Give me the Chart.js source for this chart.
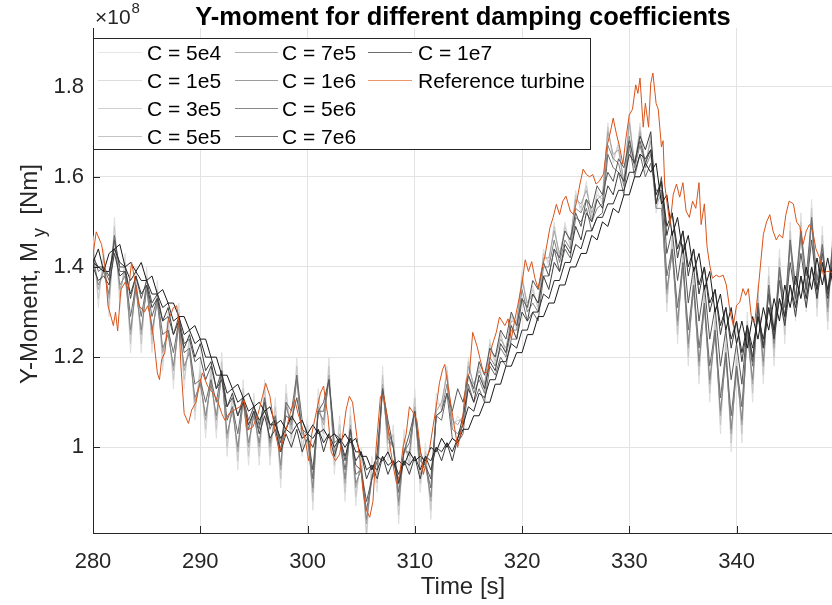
<!DOCTYPE html>
<html>
<head>
<meta charset="utf-8">
<script src="https://cdn.jsdelivr.net/npm/chart.js@4.4.1/dist/chart.umd.min.js"></script>
<style>
html,body{margin:0;padding:0;background:#fff;}
#wrap{width:832px;height:605px;position:relative;}
</style>
</head>
<body>
<div id="wrap"><canvas id="c"></canvas></div>
<script>
// ---------------- DATA ----------------
const xTickValues = [280,290,300,310,320,330,340];
const yTickValues = [1,1.2,1.4,1.6,1.8];
const yTickLabels = ['1','1.2','1.4','1.6','1.8'];

const times = [280,280.5,281,281.5,282,282.5,283,283.5,284,284.5,285,285.5,286,286.5,287,287.5,288,288.5,289,289.5,290,290.5,291,291.5,292,292.5,293,293.5,294,294.5,295,295.5,296,296.5,297,297.5,298,298.5,299,299.5,300,300.5,301,301.5,302,302.5,303,303.5,304,304.5,305,305.5,306,306.5,307,307.5,308,308.5,309,309.5,310,310.5,311,311.5,312,312.5,313,313.5,314,314.5,315,315.5,316,316.5,317,317.5,318,318.5,319,319.5,320,320.5,321,321.5,322,322.5,323,323.5,324,324.5,325,325.5,326,326.5,327,327.5,328,328.5,329,329.5,330,330.5,331,331.5,332,332.5,333,333.5,334,334.5,335,335.5,336,336.5,337,337.5,338,338.5,339,339.5,340,340.5,341,341.5,342,342.5,343,343.5,344,344.5,345,345.5,346,346.5,347,347.5,348,348.5,349];

const c5e4 = [
1.47,1.31,1.44,1.29,1.51,1.31,1.43,1.21,1.40,1.21,
1.40,1.21,1.37,1.17,1.30,1.13,1.32,1.13,1.26,1.06,
1.19,1.02,1.19,1.02,1.21,0.98,1.13,0.95,1.15,0.96,
1.12,0.96,1.15,0.96,1.11,0.91,1.14,1.00,1.20,0.98,
1.07,0.86,1.13,1.01,1.20,0.94,1.07,0.88,1.09,0.87,
1.00,0.79,0.98,0.90,1.18,0.97,1.05,0.83,1.04,0.94,
1.13,0.90,1.01,0.84,1.12,1.08,1.18,1.04,1.07,1.05,
1.20,1.12,1.19,1.12,1.24,1.18,1.26,1.20,1.30,1.26,
1.39,1.30,1.36,1.30,1.44,1.40,1.50,1.41,1.50,1.44,
1.57,1.52,1.59,1.50,1.57,1.54,1.72,1.63,1.68,1.57,
1.74,1.61,1.72,1.61,1.70,1.52,1.58,1.30,1.48,1.23,
1.45,1.18,1.40,1.14,1.36,1.10,1.30,1.03,1.25,0.99,
1.22,1.01,1.30,1.10,1.36,1.14,1.40,1.18,1.44,1.23,
1.50,1.28,1.52,1.30,1.55,1.29,1.49,1.26,1.50];

const c1e5 = [
1.45,1.33,1.42,1.31,1.49,1.33,1.41,1.23,1.38,1.23,
1.38,1.23,1.35,1.19,1.28,1.15,1.30,1.15,1.24,1.08,
1.17,1.04,1.17,1.04,1.19,1.00,1.11,0.97,1.13,0.98,
1.10,0.98,1.13,0.98,1.09,0.93,1.12,1.02,1.18,1.00,
1.05,0.88,1.11,1.03,1.18,0.96,1.05,0.90,1.07,0.89,
0.98,0.81,0.96,0.92,1.16,0.99,1.03,0.85,1.02,0.96,
1.11,0.92,0.99,0.86,1.10,1.09,1.17,1.05,1.06,1.06,
1.19,1.13,1.18,1.13,1.23,1.19,1.25,1.21,1.29,1.27,
1.38,1.31,1.35,1.31,1.43,1.41,1.49,1.42,1.49,1.45,
1.56,1.53,1.58,1.51,1.56,1.55,1.71,1.64,1.67,1.58,
1.73,1.62,1.71,1.62,1.69,1.53,1.57,1.32,1.46,1.25,
1.43,1.20,1.38,1.16,1.34,1.12,1.28,1.05,1.23,1.01,
1.20,1.03,1.28,1.12,1.34,1.16,1.38,1.20,1.42,1.25,
1.48,1.30,1.50,1.32,1.53,1.31,1.47,1.28,1.48];

const c3e5 = [
1.43,1.35,1.40,1.33,1.47,1.35,1.39,1.25,1.36,1.25,
1.36,1.25,1.33,1.21,1.26,1.17,1.28,1.17,1.22,1.10,
1.15,1.06,1.15,1.06,1.17,1.02,1.09,0.99,1.11,1.00,
1.08,1.00,1.11,1.00,1.07,0.95,1.10,1.04,1.16,1.02,
1.03,0.90,1.09,1.05,1.16,0.98,1.03,0.92,1.05,0.91,
0.96,0.83,0.94,0.94,1.14,1.01,1.01,0.87,1.00,0.98,
1.09,0.94,0.97,0.88,1.08,1.10,1.16,1.06,1.05,1.07,
1.18,1.14,1.17,1.14,1.22,1.20,1.24,1.22,1.28,1.28,
1.37,1.32,1.34,1.32,1.42,1.42,1.48,1.43,1.48,1.46,
1.55,1.54,1.57,1.52,1.55,1.56,1.70,1.65,1.66,1.59,
1.72,1.63,1.70,1.63,1.68,1.54,1.56,1.34,1.44,1.27,
1.41,1.22,1.36,1.18,1.32,1.14,1.26,1.07,1.21,1.03,
1.18,1.05,1.26,1.14,1.32,1.18,1.36,1.22,1.40,1.27,
1.46,1.32,1.48,1.34,1.51,1.33,1.45,1.30,1.46];

const c5e5 = [
1.42,1.36,1.39,1.34,1.46,1.36,1.38,1.26,1.35,1.26,
1.35,1.26,1.32,1.22,1.25,1.18,1.27,1.18,1.21,1.11,
1.14,1.07,1.14,1.07,1.16,1.03,1.08,1.00,1.10,1.01,
1.07,1.01,1.10,1.01,1.06,0.96,1.09,1.05,1.15,1.03,
1.02,0.91,1.08,1.06,1.15,0.99,1.02,0.93,1.04,0.92,
0.95,0.84,0.93,0.95,1.13,1.02,1.00,0.88,0.99,0.99,
1.08,0.95,0.96,0.89,1.07,1.08,1.14,1.04,1.03,1.05,
1.16,1.12,1.15,1.12,1.20,1.18,1.22,1.20,1.26,1.26,
1.35,1.30,1.32,1.30,1.40,1.40,1.46,1.41,1.46,1.44,
1.53,1.52,1.55,1.50,1.53,1.54,1.67,1.64,1.63,1.58,
1.69,1.62,1.67,1.62,1.65,1.53,1.53,1.35,1.43,1.28,
1.40,1.23,1.35,1.19,1.31,1.15,1.25,1.08,1.20,1.04,
1.17,1.06,1.25,1.15,1.31,1.19,1.35,1.23,1.39,1.28,
1.45,1.33,1.47,1.35,1.50,1.34,1.44,1.31,1.45];

const c7e5 = [
1.43,1.39,1.40,1.37,1.47,1.39,1.39,1.29,1.36,1.29,
1.36,1.29,1.33,1.25,1.26,1.21,1.28,1.21,1.22,1.14,
1.15,1.10,1.15,1.10,1.17,1.06,1.09,1.03,1.11,1.04,
1.08,1.04,1.11,1.04,1.07,0.99,1.10,1.08,1.16,1.06,
1.03,0.93,1.08,1.08,1.15,1.01,1.02,0.95,1.04,0.94,
0.95,0.86,0.93,0.97,1.13,1.04,1.00,0.90,0.99,1.01,
1.08,0.97,0.96,0.91,1.07,1.06,1.12,1.02,1.01,1.03,
1.14,1.10,1.13,1.10,1.18,1.16,1.20,1.18,1.24,1.24,
1.33,1.28,1.30,1.28,1.38,1.38,1.44,1.39,1.44,1.42,
1.51,1.50,1.53,1.48,1.51,1.52,1.65,1.62,1.61,1.56,
1.67,1.60,1.65,1.60,1.63,1.57,1.57,1.38,1.44,1.31,
1.41,1.26,1.36,1.22,1.32,1.18,1.26,1.11,1.21,1.07,
1.18,1.09,1.26,1.18,1.32,1.22,1.36,1.26,1.40,1.31,
1.46,1.36,1.48,1.38,1.51,1.37,1.45,1.34,1.46];

const c1e6 = [
1.42,1.40,1.40,1.38,1.46,1.40,1.40,1.33,1.38,1.33,
1.37,1.32,1.34,1.28,1.29,1.25,1.29,1.23,1.24,1.19,
1.20,1.15,1.18,1.13,1.17,1.09,1.11,1.07,1.11,1.06,
1.09,1.05,1.10,1.05,1.06,1.01,1.07,1.06,1.11,1.04,
1.03,0.95,1.08,1.10,1.15,1.03,1.02,0.97,1.04,0.96,
0.95,0.88,0.93,0.99,1.13,1.06,1.00,0.92,0.99,1.03,
1.08,0.99,0.96,0.93,1.07,1.08,1.12,1.08,1.13,1.10,
1.16,1.13,1.19,1.16,1.22,1.20,1.26,1.24,1.30,1.27,
1.33,1.31,1.37,1.35,1.41,1.38,1.44,1.42,1.48,1.46,
1.52,1.49,1.55,1.53,1.58,1.56,1.61,1.59,1.64,1.62,
1.68,1.63,1.68,1.63,1.66,1.54,1.60,1.43,1.48,1.37,
1.45,1.32,1.40,1.28,1.36,1.24,1.31,1.18,1.26,1.15,
1.23,1.14,1.27,1.19,1.31,1.22,1.34,1.25,1.37,1.29,
1.41,1.33,1.43,1.35,1.46,1.35,1.43,1.34,1.44];

const c5e6 = [
1.40,1.37,1.38,1.36,1.43,1.38,1.39,1.34,1.38,1.34,
1.36,1.31,1.33,1.28,1.31,1.25,1.28,1.22,1.25,1.20,
1.23,1.17,1.19,1.13,1.15,1.09,1.12,1.07,1.10,1.05,
1.08,1.03,1.07,1.02,1.04,0.99,1.03,1.00,1.04,0.99,
1.02,1.00,1.04,0.99,1.03,0.98,1.02,0.98,1.02,0.97,
0.99,0.93,0.96,0.93,0.98,0.94,0.97,0.92,0.97,0.94,
0.98,0.93,0.98,0.95,1.00,0.97,1.01,0.97,1.02,1.07,
1.13,1.10,1.16,1.13,1.19,1.17,1.23,1.21,1.27,1.24,
1.30,1.28,1.34,1.32,1.38,1.35,1.41,1.39,1.45,1.43,
1.49,1.46,1.52,1.50,1.55,1.53,1.58,1.56,1.61,1.59,
1.65,1.63,1.69,1.66,1.70,1.54,1.59,1.47,1.52,1.42,
1.48,1.38,1.44,1.34,1.40,1.30,1.35,1.25,1.31,1.22,
1.28,1.19,1.27,1.20,1.29,1.22,1.31,1.24,1.33,1.27,
1.36,1.29,1.38,1.31,1.40,1.33,1.41,1.33,1.41];

const c7e6 = [
1.41,1.40,1.39,1.39,1.44,1.41,1.40,1.37,1.39,1.37,
1.37,1.34,1.34,1.31,1.32,1.28,1.29,1.25,1.26,1.23,
1.24,1.20,1.20,1.16,1.16,1.12,1.13,1.10,1.11,1.08,
1.09,1.06,1.08,1.05,1.05,1.02,1.04,1.03,1.05,1.02,
1.03,1.02,1.04,1.01,1.03,1.00,1.02,1.00,1.02,0.99,
0.99,0.95,0.96,0.95,0.98,0.96,0.97,0.94,0.97,0.96,
0.98,0.95,0.98,0.97,1.00,0.99,1.01,0.99,1.02,1.05,
1.09,1.08,1.12,1.11,1.15,1.15,1.19,1.19,1.23,1.22,
1.26,1.26,1.30,1.30,1.34,1.33,1.37,1.37,1.41,1.41,
1.45,1.44,1.48,1.48,1.51,1.51,1.54,1.54,1.57,1.57,
1.61,1.61,1.65,1.64,1.66,1.56,1.59,1.49,1.52,1.44,
1.48,1.40,1.44,1.36,1.40,1.32,1.35,1.27,1.31,1.24,
1.28,1.21,1.27,1.22,1.29,1.24,1.31,1.26,1.33,1.29,
1.36,1.31,1.38,1.33,1.40,1.35,1.41,1.35,1.41];

const c1e7 = [
1.41,1.44,1.39,1.43,1.44,1.45,1.40,1.41,1.39,1.41,
1.37,1.38,1.34,1.35,1.32,1.32,1.29,1.29,1.26,1.27,
1.24,1.24,1.20,1.20,1.16,1.16,1.13,1.14,1.11,1.12,
1.09,1.10,1.08,1.09,1.05,1.06,1.04,1.07,1.05,1.06,
1.03,1.05,1.03,1.04,1.02,1.03,1.01,1.03,1.01,1.02,
0.98,0.98,0.95,0.98,0.97,0.99,0.96,0.97,0.96,0.99,
0.97,0.98,0.97,1.00,0.99,1.02,1.00,1.02,1.01,1.04,
1.04,1.07,1.07,1.10,1.10,1.14,1.14,1.18,1.18,1.21,
1.21,1.25,1.25,1.29,1.29,1.32,1.32,1.36,1.36,1.40,
1.40,1.43,1.43,1.47,1.46,1.50,1.49,1.53,1.52,1.56,
1.56,1.60,1.60,1.63,1.61,1.63,1.54,1.56,1.47,1.51,
1.43,1.47,1.39,1.43,1.35,1.39,1.30,1.34,1.26,1.31,
1.23,1.28,1.22,1.29,1.24,1.31,1.26,1.33,1.28,1.36,
1.31,1.38,1.33,1.40,1.35,1.42,1.36,1.42,1.36];

const refTimes = [280.0,280.3,280.8,281.1,281.4,281.9,282.1,282.3,282.6,283.0,283.3,283.6,283.9,284.3,284.8,285.1,285.4,285.7,286.0,286.2,286.4,286.7,287.0,287.5,287.8,288.0,288.2,288.5,288.9,289.2,289.6,289.9,290.2,290.7,291.2,291.6,292.0,292.3,292.7,293.2,293.7,294.1,294.4,294.9,295.4,295.8,296.1,296.5,
297.0,297.4,297.9,298.4,298.8,299.1,299.4,299.8,300.1,300.4,300.8,301.2,301.5,301.7,301.9,302.2,302.6,303.0,303.3,303.6,303.9,304.2,304.6,304.9,305.2,305.5,305.8,306.1,306.4,306.8,307.1,307.4,307.7,308.0,308.3,308.6,308.9,309.2,309.5,309.9,310.2,310.5,310.8,311.1,311.4,311.7,312.0,312.3,312.6,312.8,313.1,313.6,314.0,314.4,314.8,315.1,315.4,315.8,316.1,316.4,316.8,317.2,317.6,317.9,318.4,318.7,319.0,319.3,319.6,320.0,320.3,320.6,320.9,321.2,321.5,321.8,322.1,322.6,322.9,323.2,323.5,323.8,324.1,324.5,324.8,325.1,325.4,325.7,326.0,326.3,326.6,326.9,327.2,327.6,327.9,328.2,328.5,328.8,329.1,329.4,329.7,330.0,
330.3,330.6,330.8,331.0,331.3,331.5,331.8,332.0,332.2,332.5,332.7,333.0,333.15,333.3,333.5,333.8,334.1,334.4,334.7,335.0,335.3,335.6,335.9,336.2,336.5,336.7,337.0,337.25,337.5,337.75,338.1,338.4,338.75,339.05,339.4,339.7,340.0,340.3,340.6,340.85,341.1,341.4,341.7,342.0,342.5,342.8,343.1,343.4,343.7,344.0,344.3,344.6,344.9,345.3,345.6,345.9,346.2,346.5,346.8,347.1,347.4,347.75,348.1,348.4,348.7,349.0];
const refValues = [1.426,1.478,1.45,1.404,1.314,1.27,1.30,1.258,1.35,1.366,1.35,1.41,1.37,1.314,1.30,1.314,1.284,1.232,1.165,1.15,1.195,1.21,1.28,1.31,1.314,1.28,1.18,1.075,1.053,1.083,1.10,1.135,1.165,1.135,1.12,1.105,1.075,1.06,1.075,1.083,1.09,1.105,1.038,1.045,1.075,1.113,1.142,1.113,
1.03,0.99,1.03,1.076,1.106,1.076,1.054,1.016,0.97,1.03,1.076,1.12,1.136,1.10,1.07,0.99,0.97,0.985,1.03,1.084,1.113,1.10,1.024,0.97,0.897,0.86,0.845,0.88,1.0,1.113,1.116,1.07,1.0,0.957,0.92,0.94,1.0,1.03,1.09,1.075,1.06,1.0,0.94,0.97,1.0,1.046,1.09,1.143,1.173,1.184,1.136,1.06,1.0,1.045,1.15,1.165,1.255,1.225,1.195,1.166,1.166,1.225,1.255,1.289,1.27,1.285,1.24,1.28,1.315,1.363,1.416,1.39,1.412,1.375,1.352,1.39,1.42,1.487,1.51,1.539,1.516,1.546,1.557,1.524,1.516,1.546,1.584,1.617,1.605,1.60,1.605,1.584,1.59,1.606,1.666,1.695,1.73,1.695,1.666,1.628,1.688,1.737,
1.75,1.804,1.785,1.819,1.71,1.763,1.71,1.807,1.83,1.763,1.75,1.666,1.68,1.584,1.546,1.494,1.561,1.584,1.555,1.587,1.524,1.51,1.546,1.53,1.587,1.494,1.54,1.445,1.404,1.375,1.382,1.378,1.382,1.36,1.30,1.27,1.315,1.322,1.352,1.337,1.352,1.285,1.278,1.345,1.472,1.50,1.516,1.48,1.46,1.472,1.464,1.516,1.546,1.54,1.50,1.49,1.45,1.48,1.494,1.48,1.44,1.42,1.382,1.39,1.39,1.385];

const seriesNames = ['C = 5e4','C = 1e5','C = 3e5','C = 5e5','C = 7e5','C = 1e6','C = 5e6','C = 7e6','C = 1e7'];
const seriesValues = [c5e4,c1e5,c3e5,c5e5,c7e5,c1e6,c5e6,c7e6,c1e7];
const refName = 'Reference turbine';

// ---------------- STYLE ----------------
const seriesColors = ['#dedede','#c6c6c6','#a4a4a4','#858585','#6a6a6a','#555555','#3d3d3d','#2b2b2b','#181818'];
const legendColors = ['#e6e6e6','#dcdcdc','#d0d0d0','#c4c4c4','#b0b0b0','#9c9c9c','#888888','#7a7a7a','#6c6c6c'];
const refColor = '#d95319';
const FONT = "'Liberation Sans', Arial, Helvetica, sans-serif";
const AX = '#262626';

const datasets = seriesValues.map((vals, i) => ({
  label: seriesNames[i],
  data: times.map((t, j) => ({x: t, y: vals[j]})),
  borderColor: seriesColors[i],
  borderWidth: 1,
  pointRadius: 0,
  tension: 0,
  order: 9 - i
}));
datasets.push({
  label: refName,
  data: refTimes.map((t, j) => ({x: t, y: refValues[j]})),
  borderColor: refColor,
  borderWidth: 1,
  pointRadius: 0,
  tension: 0,
  order: 0
});

const deco = {
  id: 'deco',
  afterDatasetsDraw(chart) {
    const ctx = chart.ctx, a = chart.chartArea;
    const xs = chart.scales.x, ys = chart.scales.y;
    ctx.save();
    // inside tick marks
    ctx.strokeStyle = AX; ctx.lineWidth = 1;
    ctx.beginPath();
    yTickValues.forEach(v => { const p = Math.round(ys.getPixelForValue(v)) + 0.5; ctx.moveTo(a.left, p); ctx.lineTo(a.left + 7, p); });
    xTickValues.forEach(v => { const p = Math.round(xs.getPixelForValue(v)) + 0.5; ctx.moveTo(p, a.bottom); ctx.lineTo(p, a.bottom - 7); });
    ctx.stroke();
    // legend box
    const L = 93, T = 38, W = 498, H = 112;
    ctx.fillStyle = '#fff';
    ctx.fillRect(L, T, W, H);
    ctx.strokeStyle = AX;
    ctx.strokeRect(L + 0.5, T + 0.5, W - 1, H - 1);
    const rows = [52, 80, 108, 136];
    const cols = [{l0: 98, l1: 142, tx: 147}, {l0: 235, l1: 278, tx: 282}, {l0: 368, l1: 412, tx: 418}];
    const entries = seriesNames.map((n, i) => ({name: n, color: legendColors[i]}));
    entries.push({name: refName, color: '#e9966f'});
    ctx.font = '21px ' + FONT;
    ctx.textBaseline = 'alphabetic';
    ctx.textAlign = 'left';
    entries.forEach((e, k) => {
      const c = cols[Math.floor(k / 4)], r = rows[k % 4];
      ctx.strokeStyle = e.color; ctx.lineWidth = 1;
      ctx.beginPath(); ctx.moveTo(c.l0, r + 0.5); ctx.lineTo(c.l1, r + 0.5); ctx.stroke();
      ctx.fillStyle = '#000';
      ctx.fillText(e.name, c.tx, r + 8);
    });
    ctx.restore();
  },
  afterDraw(chart) {
    const ctx = chart.ctx;
    ctx.save();
    // title
    ctx.fillStyle = '#000';
    ctx.font = 'bold 25.5px ' + FONT;
    ctx.textAlign = 'center'; ctx.textBaseline = 'alphabetic';
    ctx.fillText('Y-moment for different damping coefficients', 463, 25);
    // exponent
    ctx.fillStyle = AX;
    ctx.textAlign = 'left';
    ctx.font = '21px ' + FONT;
    ctx.fillText('\u00d710', 95, 24);
    const w = ctx.measureText('\u00d710').width;
    ctx.font = '15px ' + FONT;
    ctx.fillText('8', 95 + w + 1, 13);
    // x label
    ctx.font = '24px ' + FONT;
    ctx.textAlign = 'center';
    ctx.fillText('Time [s]', 463, 594);
    // y label with subscript
    ctx.translate(37, 274);
    ctx.rotate(-Math.PI / 2);
    ctx.textAlign = 'left';
    ctx.font = '24px ' + FONT;
    const p1 = 'Y-Moment, M', p3 = '  [Nm]';
    const w1 = ctx.measureText(p1).width, w3 = ctx.measureText(p3).width;
    ctx.font = '18px ' + FONT;
    const w2 = ctx.measureText(' y').width;
    let x0 = -(w1 + w2 + w3) / 2;
    ctx.font = '24px ' + FONT;
    ctx.fillText(p1, x0, 0);
    ctx.font = '18px ' + FONT;
    ctx.fillText(' y', x0 + w1, 8);
    ctx.font = '24px ' + FONT;
    ctx.fillText(p3, x0 + w1 + w2, 0);
    ctx.restore();
  }
};

new Chart(document.getElementById('c'), {
  type: 'line',
  data: {datasets},
  options: {
    responsive: true,
    maintainAspectRatio: false,
    animation: false,
    layout: {padding: {top: 28, left: 0, right: 0, bottom: 0}},
    plugins: {legend: {display: false}, title: {display: false}, tooltip: {enabled: false}},
    scales: {
      x: {
        type: 'linear', min: 280, max: 348.9,
        afterBuildTicks: s => { s.ticks = xTickValues.map(v => ({value: v})); },
        afterFit: s => { s.height = 72; },
        ticks: {font: {family: FONT, size: 22}, color: AX, padding: 16, maxRotation: 0, autoSkip: false,
                callback: (v) => String(v)},
        grid: {color: '#e3e3e3', drawTicks: false},
        border: {color: AX, width: 1}
      },
      y: {
        type: 'linear', min: 0.81, max: 1.93,
        afterBuildTicks: s => { s.ticks = yTickValues.map(v => ({value: v})); },
        afterFit: s => { s.width = 93; },
        ticks: {font: {family: FONT, size: 22}, color: AX, padding: 9, autoSkip: false,
                callback: (v, i) => yTickLabels[i]},
        grid: {color: '#e3e3e3', drawTicks: false},
        border: {color: AX, width: 1}
      }
    }
  },
  plugins: [deco]
});
</script>
</body>
</html>
